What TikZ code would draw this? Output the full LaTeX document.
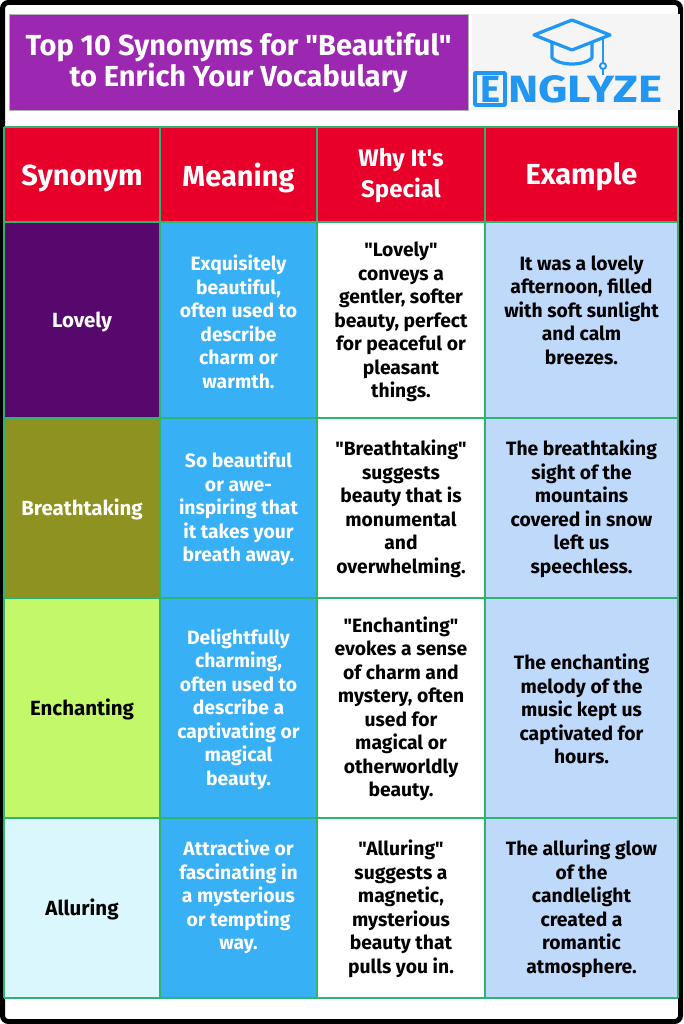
\documentclass[tikz,border=0pt]{standalone}
\usepackage{fontspec}
\setmainfont{Fira Sans}[Ligatures=TeXOff]
\begin{document}
\begin{tikzpicture}[x=1pt,y=-1pt,
 txt/.style={align=center,font=\bfseries\fontsize{19.3}{23.5}\selectfont,inner sep=0pt},
 syn/.style={txt,font=\bfseries\fontsize{20.5}{23.5}\selectfont},
 hd/.style={align=center,font=\bfseries\fontsize{29}{32}\selectfont,text=white,inner sep=0pt}]
\definecolor{gridg}{HTML}{2DB46E}
\definecolor{hred}{HTML}{E8002A}
\definecolor{tpurp}{HTML}{9C27B0}
\definecolor{c1a}{HTML}{57086C}
\definecolor{c1b}{HTML}{8E9220}
\definecolor{c1c}{HTML}{C2F86A}
\definecolor{c1d}{HTML}{D9F7FD}
\definecolor{cblue}{HTML}{38B0F5}
\definecolor{clb}{HTML}{BFD9FB}
\definecolor{logob}{HTML}{2196F3}
\useasboundingbox (0,0) rectangle (683,1024);
\fill[white] (0,0) rectangle (683,1024);
\draw[line width=5pt,rounded corners=6pt] (2.5,2.5) rectangle (680.5,1021.5);
% title
\fill[tpurp] (9,14) rectangle (468,110);
\draw[gray!60,line width=0.6pt] (9,14) rectangle (468,110);
\node[align=center,text=white,font=\bfseries\fontsize{29}{31}\selectfont,inner sep=0pt] (title) at (238.5,62) {Top 10 Synonyms for "Beautiful"\\to Enrich Your Vocabulary};
\fill[black!4] (472,14) rectangle (680,110);
% logo
\begin{scope}[logob,line width=3.2pt,line join=round]
\draw (572,20) -- (610,35) -- (572,50) -- (534,35) -- cycle;
\draw (552,42) -- (552,58) .. controls (560,66) and (584,66) .. (592,58) -- (592,42);
\draw[line width=2pt] (603,38) -- (603,63);
\draw[line width=2pt] (603,66) circle (3);
\draw[line width=2pt] (603,69) -- (603,75);
\draw[line width=3.5pt] (475,73) rectangle (505,105);
\end{scope}
\node[text=logob,font=\bfseries\fontsize{38}{38}\selectfont,inner sep=0pt] (elogo) at (490,89) {E};
\node[text=logob,font=\bfseries\fontsize{38}{38}\selectfont,inner sep=0pt,anchor=west,xscale=1.2] (logo) at (508,89) {NGLYZE};
% header
\foreach \a/\b in {4/160,160/317,317/485,485/678}{\fill[hred] (\a,127) rectangle (\b,222);}
\node[hd] (h1) at (82,178) {Synonym};
\node[hd] (h2) at (238.5,178) {Meaning};
\node[hd,font=\bfseries\fontsize{24}{31}\selectfont] (h3) at (401,176) {Why It's\\Special};
\node[hd] (h4) at (581.5,177) {Example};
% body fills
\fill[c1a] (4,222) rectangle (160,418);
\fill[c1b] (4,418) rectangle (160,598);
\fill[c1c] (4,598) rectangle (160,818);
\fill[c1d] (4,818) rectangle (160,998);
\fill[cblue] (160,222) rectangle (317,998);
\fill[clb] (485,222) rectangle (678,998);
% grid
\foreach \y in {127,222,418,598,818,998}{\draw[gridg,line width=1.6pt] (4,\y) -- (678,\y);}
\foreach \x in {4,160,317,485,678}{\draw[gridg,line width=1.6pt] (\x,127) -- (\x,998);}
% row 1
\node[syn,text=white] (s1) at (82,322) {Lovely};
\node[txt,text=white] (m1) at (238.5,322) {Exquisitely\\beautiful,\\often used to\\describe\\charm or\\warmth.};
\node[txt] (w1) at (401,322) {"Lovely"\\conveys a\\gentler, softer\\beauty, perfect\\for peaceful or\\pleasant\\things.};
\node[txt] (e1) at (581.5,310) {It was a lovely\\afternoon, filled\\with soft sunlight\\and calm\\breezes.};
% row 2
\node[syn,text=white] (s2) at (82,509) {Breathtaking};
\node[txt,text=white] (m2) at (238.5,509) {So beautiful\\or awe-\\inspiring that\\it takes your\\breath away.};
\node[txt] (w2) at (401,509) {"Breathtaking"\\suggests\\beauty that is\\monumental\\and\\overwhelming.};
\node[txt] (e2) at (581.5,509) {The breathtaking\\sight of the\\mountains\\covered in snow\\left us\\speechless.};
% row 3
\node[syn] (s3) at (82,709) {Enchanting};
\node[txt,text=white] (m3) at (238.5,709) {Delightfully\\charming,\\often used to\\describe a\\captivating or\\magical\\beauty.};
\node[txt] (w3) at (401,709) {"Enchanting"\\evokes a sense\\of charm and\\mystery, often\\used for\\magical or\\otherworldly\\beauty.};
\node[txt] (e3) at (581.5,709) {The enchanting\\melody of the\\music kept us\\captivated for\\hours.};
% row 4
\node[syn] (s4) at (82,909) {Alluring};
\node[txt,text=white] (m4) at (238.5,897) {Attractive or\\fascinating in\\a mysterious\\or tempting\\way.};
\node[txt] (w4) at (401,909) {"Alluring"\\suggests a\\magnetic,\\mysterious\\beauty that\\pulls you in.};
\node[txt] (e4) at (581.5,909) {The alluring glow\\of the\\candlelight\\created a\\romantic\\atmosphere.};
\end{tikzpicture}
\end{document}
